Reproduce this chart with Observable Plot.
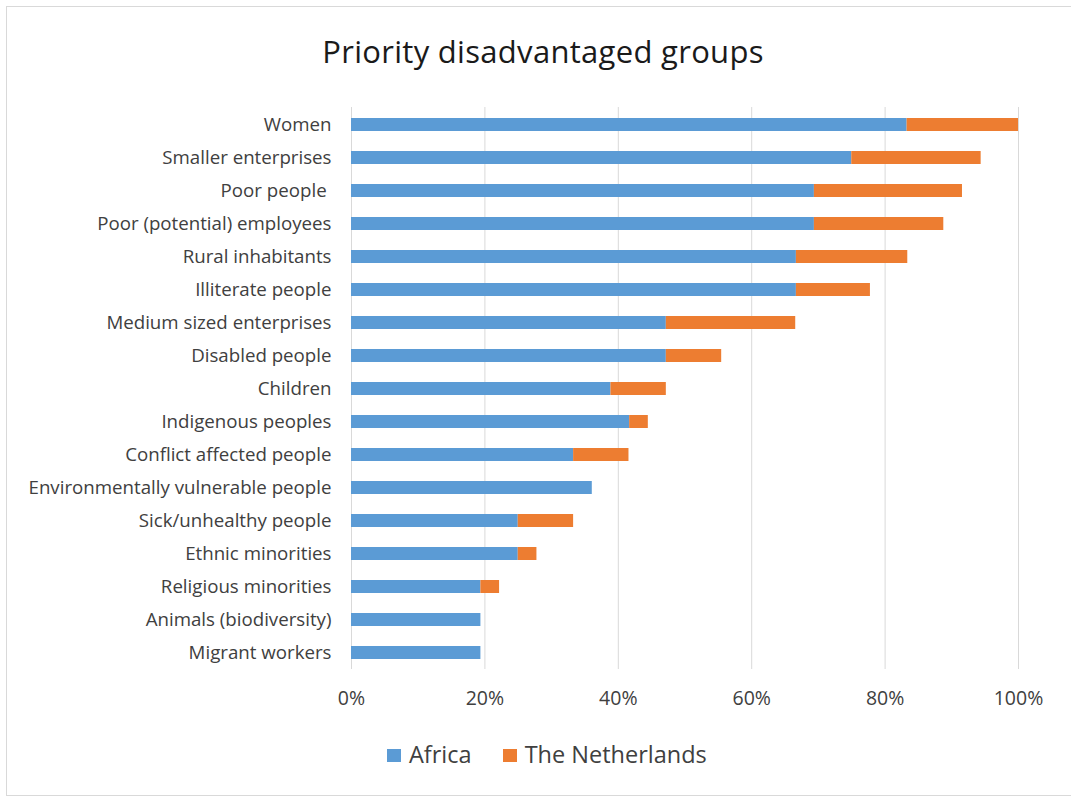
<!DOCTYPE html>
<html>
<head>
<meta charset="utf-8">
<script src="https://cdn.jsdelivr.net/npm/d3@7"></script>
<script src="https://cdn.jsdelivr.net/npm/@observablehq/plot@0.6"></script>
<style>
  html, body { margin: 0; padding: 0; background: #fff; }
  #chart {
    position: relative; width: 1071px; height: 798px; overflow: hidden;
    font-family: "Open Sans", Lato, sans-serif;
  }
  #frame {
    position: absolute; left: 6px; top: 6px; width: 1080px; height: 790px;
    border: 1px solid #d9d9d9; box-sizing: border-box;
  }
  #title {
    position: absolute; left: 0; top: 31px; width: 1086px; text-align: center;
    font-size: 31px; letter-spacing: 0.3px; color: #1a1a1a; line-height: 40px;
  }
  #plot { position: absolute; left: 0; top: 90px; }
  #legend {
    position: absolute; top: 739px; left: 387px;
    display: flex; font-size: 23.5px; color: #404040; line-height: 30px;
  }
  .item { display: flex; align-items: center; margin-right: 31px; }
  .swatch { width: 14px; height: 13px; margin-right: 8px; margin-top: 3px; }
</style>
</head>
<body>
<div id="chart">
  <div id="frame"></div>
  <div id="title">Priority disadvantaged groups</div>
  <div id="plot"></div>
  <div id="legend"></div>
</div>
<script>
// Groups named as priorities, top to bottom
const groups = [
  "Women",
  "Smaller enterprises",
  "Poor people ",
  "Poor (potential) employees",
  "Rural inhabitants",
  "Illiterate people",
  "Medium sized enterprises",
  "Disabled people",
  "Children",
  "Indigenous peoples",
  "Conflict affected people",
  "Environmentally vulnerable people",
  "Sick/unhealthy people",
  "Ethnic minorities",
  "Religious minorities",
  "Animals (biodiversity)",
  "Migrant workers"
];

// Share of respondents (%) by region
const africa = [83.3, 75.0, 69.4, 69.4, 66.7, 66.7, 47.2, 47.2, 38.9, 41.7, 33.3, 36.1, 25.0, 25.0, 19.4, 19.4, 19.4];
const netherlands = [16.7, 19.4, 22.2, 19.4, 16.7, 11.1, 19.4, 8.3, 8.3, 2.8, 8.3, 0, 8.3, 2.8, 2.8, 0, 0];

const regions = ["Africa", "The Netherlands"];
const colors = ["#5B9BD5", "#ED7D31"];
const xTicks = [0, 20, 40, 60, 80, 100];

const rows = groups.flatMap((g, i) => [
  {group: g, region: regions[0], value: africa[i]},
  {group: g, region: regions[1], value: netherlands[i]}
]);

const chart = Plot.plot({
  width: 1071,
  height: 629,
  marginTop: 17,
  marginBottom: 50,
  marginLeft: 351,
  marginRight: 53,
  style: {fontFamily: "'Open Sans', Lato, sans-serif", color: "#404040", background: "transparent"},
  x: {domain: [0, 100]},
  y: {domain: groups, paddingInner: 0.615, paddingOuter: 0.3075},
  color: {domain: regions, range: colors},
  marks: [
    Plot.gridX(xTicks, {stroke: "#d9d9d9", strokeOpacity: 1, strokeWidth: 1}),
    Plot.barX(rows, Plot.stackX({y: "group", x: "value", fill: "region", order: regions})),
    Plot.axisX({ticks: xTicks, tickSize: 0, tickPadding: 22, tickFormat: d => d + "%", fontSize: 19.5, label: null}),
    Plot.axisY({tickSize: 0, tickPadding: 20, fontSize: 18.7, label: null})
  ]
});
document.getElementById("plot").appendChild(chart);

// Legend below the chart
const legend = document.getElementById("legend");
regions.forEach((r, i) => {
  const item = document.createElement("div");
  item.className = "item";
  const sw = document.createElement("span");
  sw.className = "swatch";
  sw.style.background = colors[i];
  const label = document.createElement("span");
  label.textContent = r;
  item.appendChild(sw);
  item.appendChild(label);
  legend.appendChild(item);
});
</script>
</body>
</html>
